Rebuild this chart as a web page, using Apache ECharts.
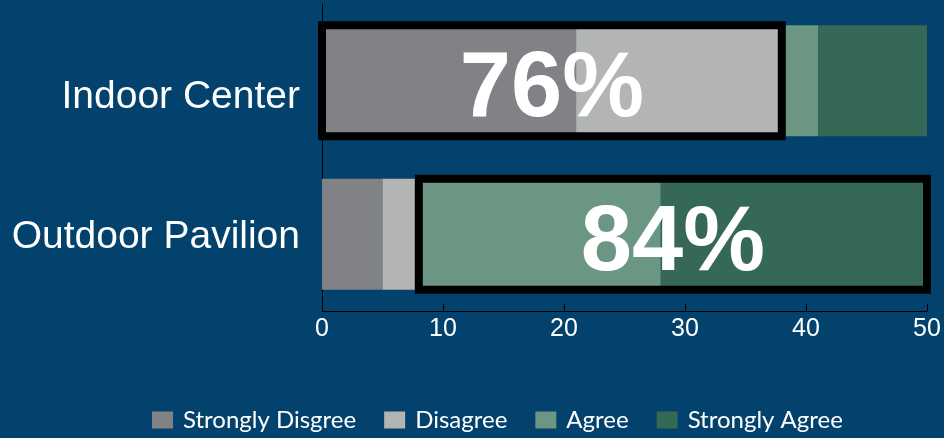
<!DOCTYPE html>
<html><head><meta charset="utf-8">
<script src="https://cdn.jsdelivr.net/npm/echarts@6/dist/echarts.min.js"></script>
<style>html,body{margin:0;padding:0;background:#02426c}#c{width:944px;height:438px}</style>
</head><body><div id="c"></div>
<script>
const categories = ['Indoor Center', 'Outdoor Pavilion'];
const seriesNames = ['Strongly Disgree', 'Disagree', 'Agree', 'Strongly Agree'];
const stronglyDisagree = [21, 5];
const disagree = [17, 3];
const agree = [3, 20];
const stronglyAgree = [9, 22];
const xTicks = [0, 10, 20, 30, 40, 50];
const colors = ['#818286', '#b3b5b4', '#6a9683', '#356956'];

const BAR_W = 111;
const values = [stronglyDisagree, disagree, agree, stronglyAgree];
// highlight boxes: Indoor -> disagree side, Outdoor -> agree side
const boxes = categories.map((c, i) => {
  const neg = stronglyDisagree[i] + disagree[i];
  const pos = agree[i] + stronglyAgree[i];
  const total = neg + pos;
  if (i === 0) return [0, neg, i, Math.round(neg / total * 100) + '%'];
  return [neg, total, i, Math.round(pos / total * 100) + '%'];
});

const chart = echarts.init(document.getElementById('c'), null, {renderer: 'canvas'});
const barSeries = seriesNames.map((n, k) => ({
  name: n, type: 'bar', stack: 'all', barWidth: BAR_W,
  data: values[k], itemStyle: {color: colors[k]}, silent: true
}));
const labelFont = {color: '#fff', fontSize: 39, fontFamily: 'Liberation Sans, Arial, sans-serif'};
chart.setOption({
  backgroundColor: '#02426c',
  animation: false,
  grid: {left: 322, right: 17, top: 4, height: 307},
  xAxis: {
    type: 'value', min: xTicks[0], max: xTicks[xTicks.length - 1], interval: 10,
    axisLine: {show: true, lineStyle: {color: '#000', width: 1}},
    axisTick: {show: true, inside: true, length: 7, lineStyle: {color: '#000'}},
    splitLine: {show: false},
    axisLabel: {color: '#fff', fontSize: 25, fontFamily: 'Liberation Sans, Arial, sans-serif', margin: 6}
  },
  yAxis: {
    type: 'category', data: categories, inverse: true,
    axisLine: {show: true, lineStyle: {color: '#000', width: 1}},
    axisTick: {show: false},
    axisLabel: {
      margin: 22,
      formatter: function (v, i) { return (i === 0 ? '{a|' : '{b|') + v + '}'; },
      rich: {
        a: Object.assign({padding: [33, 0, 0, 0]}, labelFont),
        b: Object.assign({padding: [5, 0, 0, 0]}, labelFont)
      }
    }
  },
  legend: {
    bottom: 6, left: 152, padding: 0, itemWidth: 21, itemHeight: 17, itemGap: 28,
    data: seriesNames, icon: 'rect',
    textStyle: {color: '#fff', fontSize: 24, fontFamily: 'Lato, Open Sans, sans-serif', padding: [0, 0, 0, 5]}
  },
  series: barSeries.concat([{
    type: 'custom', name: 'box', z: 10, silent: true,
    encode: {x: [0, 1], y: 2},
    data: boxes,
    renderItem: function (params, api) {
      const s = api.value(0), e = api.value(1), ci = api.value(2);
      const p0 = api.coord([s, ci]);
      const p1 = api.coord([e, ci]);
      const h = BAR_W;
      return {
        type: 'group',
        children: [
          {type: 'rect', shape: {x: p0[0], y: p0[1] - h / 2, width: p1[0] - p0[0], height: h},
           style: {fill: 'none', stroke: '#000', lineWidth: 8}},
          {type: 'text', style: {text: boxes[params.dataIndex][3], x: (p0[0] + p1[0]) / 2, y: p0[1] + 10,
            align: 'center', verticalAlign: 'middle', fill: '#fff',
            fontSize: 92, fontWeight: 'bold', fontFamily: 'Liberation Sans, Arial, sans-serif'}}
        ]
      };
    }
  }])
});
</script></body></html>
